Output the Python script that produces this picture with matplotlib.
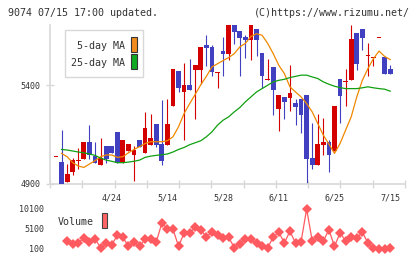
import numpy as np
import matplotlib
matplotlib.use("Agg")
import matplotlib.pyplot as plt
from matplotlib.patches import Rectangle

# daily candles (open, close, high, low), oldest first
opens = [5040, 5011, 4910, 4962, 5018, 5028, 5112, 5041, 4998, 5092,
         5092, 5163, 5008, 5068, 5047, 5122, 5058, 5099, 5203, 5102,
         5099, 5296, 5471, 5366, 5400, 5477, 5477, 5602, 5592, 5465,
         5572, 5558, 5703, 5673, 5642, 5629, 5683, 5562, 5427, 5491,
         5280, 5339, 5336, 5309, 5329, 5350, 5031, 4998, 5099, 5112,
         5068, 5430, 5417, 5427, 5663, 5683, 5550, 5539, 5642, 5541,
         5481]
closes = [5040, 4897, 4950, 5021, 5021, 5112, 5047, 5008, 5031, 5028,
          5058, 5008, 5122, 5102, 5072, 5089, 5183, 5132, 5099, 5018,
          5203, 5481, 5387, 5400, 5376, 5501, 5592, 5589, 5467, 5467,
          5558, 5703, 5670, 5639, 5629, 5703, 5629, 5447, 5429, 5376,
          5350, 5316, 5360, 5289, 5250, 5028, 4998, 5102, 5112, 5048,
          5294, 5346, 5419, 5632, 5508, 5639, 5552, 5541, 5642, 5457,
          5457]
highs = [5040, 5173, 5001, 5030, 5084, 5112, 5201, 5112, 5134, 5092,
         5092, 5163, 5122, 5102, 5092, 5122, 5264, 5254, 5203, 5324,
         5329, 5481, 5471, 5513, 5531, 5501, 5592, 5654, 5602, 5467,
         5642, 5703, 5703, 5673, 5653, 5703, 5683, 5562, 5531, 5491,
         5350, 5339, 5501, 5329, 5329, 5350, 5211, 5254, 5233, 5122,
         5294, 5430, 5481, 5703, 5663, 5683, 5612, 5541, 5642, 5541,
         5501]
lows = [5040, 4897, 4910, 4945, 4976, 5028, 5028, 5008, 4998, 5008,
        5058, 5008, 5008, 5068, 4917, 5089, 5058, 5099, 5089, 4998,
        5099, 5296, 5366, 5122, 5376, 5230, 5407, 5498, 5447, 5387,
        5447, 5528, 5609, 5447, 5538, 5528, 5548, 5387, 5427, 5250,
        5169, 5230, 5270, 5200, 5159, 4897, 4977, 4998, 5048, 4961,
        5068, 5210, 5294, 5427, 5477, 5578, 5447, 5498, 5642, 5457,
        5457]

# moving averages, starting from the second candle
ma5 = [5055, 5038, 5008, 4991, 4984, 5001, 5018, 5038, 5047, 5047,
       5035, 5038, 5058, 5075, 5089, 5105, 5114, 5114, 5114, 5119,
       5139, 5190, 5257, 5307, 5354, 5403, 5445, 5493, 5509, 5525,
       5540, 5560, 5594, 5612, 5647, 5661, 5653, 5612, 5560, 5501,
       5459, 5392, 5366, 5341, 5307, 5265, 5206, 5147, 5102, 5055,
       5105, 5173, 5240, 5341, 5425, 5484, 5535, 5573, 5546, 5530]
ma25 = [5075, 5072, 5067, 5062, 5058, 5052, 5045, 5031, 5021, 5015,
        5008, 5008, 5011, 5015, 5021, 5035, 5041, 5045, 5048, 5052,
        5062, 5075, 5085, 5099, 5109, 5119, 5139, 5164, 5198, 5223,
        5240, 5265, 5287, 5316, 5341, 5366, 5383, 5400, 5417, 5425,
        5430, 5439, 5445, 5451, 5451, 5442, 5434, 5417, 5405, 5395,
        5388, 5383, 5383, 5383, 5387, 5392, 5387, 5383, 5380, 5370]

# volume, starting from the third candle
volume = [2100, 1360, 1700, 2790, 1860, 2620, 440, 1700, 1110, 3540,
          3040, 770, 1860, 770, 2540, 2540, 1860, 6570, 5060, 5060,
          770, 4130, 4130, 5560, 4890, 3040, 4470, 3540, 2790, 3040,
          440, 1360, 2540, 2540, 1610, 770, 440, 3040, 4300, 1610,
          4550, 1610, 1950, 10100, 2120, 3040, 2120, 4890, 770, 4130,
          2120, 3040, 2790, 4300, 1610, 440, 0, 180, 440]

date_labels = ['4/24', '5/14', '5/28', '6/11', '6/25', '7/15']
label_idx = [10, 20, 30, 40, 50, 60]

W, H = 420, 259
RED = '#d40000'
BLUE = '#4040c0'
AXC = '#d8d8d8'
TXT = '#333333'
MONO = 'DejaVu Sans Mono'

fig = plt.figure(figsize=(W / 100, H / 100), dpi=100)


def fx(x):
    return x / W


def fy(y):
    return 1 - y / H


# price panel
ax = fig.add_axes([fx(50), fy(184), 355 / W, 159 / H])
x0, x1 = -1.08, 62.66
ax.set_xlim(x0, x1)
ax.set_ylim(4900, 5705)

n = len(opens)
idx = np.arange(n)
for i in idx:
    o, c = opens[i], closes[i]
    col = RED if c >= o else BLUE
    ax.vlines(i, lows[i], highs[i], color=col, lw=0.8, zorder=2)
    h = max(abs(c - o), 7)
    ax.bar(i, h, bottom=min(o, c) - (h - abs(c - o)) / 2, width=0.85,
           color=col, zorder=3, linewidth=0)

ax.plot(idx[1:], ma5, color='#f08800', lw=0.9, zorder=4)
ax.plot(idx[1:], ma25, color='#10a010', lw=0.9, zorder=4)

for s in ['top', 'right']:
    ax.spines[s].set_visible(False)
for s in ['left', 'bottom']:
    ax.spines[s].set_color(AXC)
    ax.spines[s].set_linewidth(1.2)

ax.set_yticks([4900, 5400])
ax.set_yticklabels(['4900', '5400'], fontfamily=MONO, fontsize=6, color=TXT)
ax.tick_params(axis='y', direction='inout', length=6, width=1, color=AXC, pad=4)

ax.set_xticks(label_idx)
ax.set_xticklabels(date_labels, fontfamily=MONO, fontsize=6, color=TXT)
ax.tick_params(axis='x', which='major', length=0, pad=7)
ax.set_xticks(np.linspace(x0, x1, 12), minor=True)
ax.tick_params(axis='x', which='minor', direction='inout', length=6,
               width=1, color=AXC)

# volume panel
vax = fig.add_axes([fx(50), fy(255), 355 / W, 52 / H])
vax.set_xlim(x0, x1)
vax.set_ylim(-1400, 11600)
vax.plot(idx[2:], volume, color='#ff5a60', lw=0.9, marker='D',
         markersize=4.6, markeredgewidth=0)
for s in vax.spines.values():
    s.set_visible(False)
vax.set_xticks([])
vax.set_yticks([100, 5100, 10100])
vax.set_yticklabels(['100', '5100', '10100'], fontfamily=MONO, fontsize=6,
                    color=TXT)
vax.tick_params(axis='y', length=0, pad=4)

# header
fig.text(fx(8), fy(13), '9074 07/15 17:00 updated.', fontfamily=MONO,
         fontsize=7.2, color=TXT, va='center', ha='left')
fig.text(fx(410), fy(13), '(C)https://www.rizumu.net/', fontfamily=MONO,
         fontsize=7.2, color=TXT, va='center', ha='right')

# MA legend
fig.add_artist(Rectangle((fx(65), fy(77)), 78 / W, 47 / H,
                         transform=fig.transFigure, facecolor='white',
                         edgecolor=AXC, lw=1, zorder=5))
fig.text(fx(125), fy(46), '5-day MA', fontfamily=MONO, fontsize=7.2,
         color=TXT, va='center', ha='right', zorder=6)
fig.text(fx(125), fy(63), '25-day MA', fontfamily=MONO, fontsize=7.2,
         color=TXT, va='center', ha='right', zorder=6)
fig.add_artist(Rectangle((fx(131), fy(52)), 6 / W, 15 / H,
                         transform=fig.transFigure, facecolor='#f08c1e',
                         edgecolor='#333333', lw=0.8, zorder=6))
fig.add_artist(Rectangle((fx(131), fy(69)), 6 / W, 15 / H,
                         transform=fig.transFigure, facecolor='#10aa20',
                         edgecolor='#333333', lw=0.8, zorder=6))

# volume legend
fig.text(fx(58), fy(222), 'Volume', fontfamily=MONO, fontsize=7.2,
         color=TXT, va='center', ha='left')
fig.add_artist(Rectangle((fx(102), fy(228)), 5.5 / W, 15 / H,
                         transform=fig.transFigure, facecolor='#ff6464',
                         edgecolor='#444444', lw=0.8, zorder=6))

fig.savefig('out.png', dpi=100)
